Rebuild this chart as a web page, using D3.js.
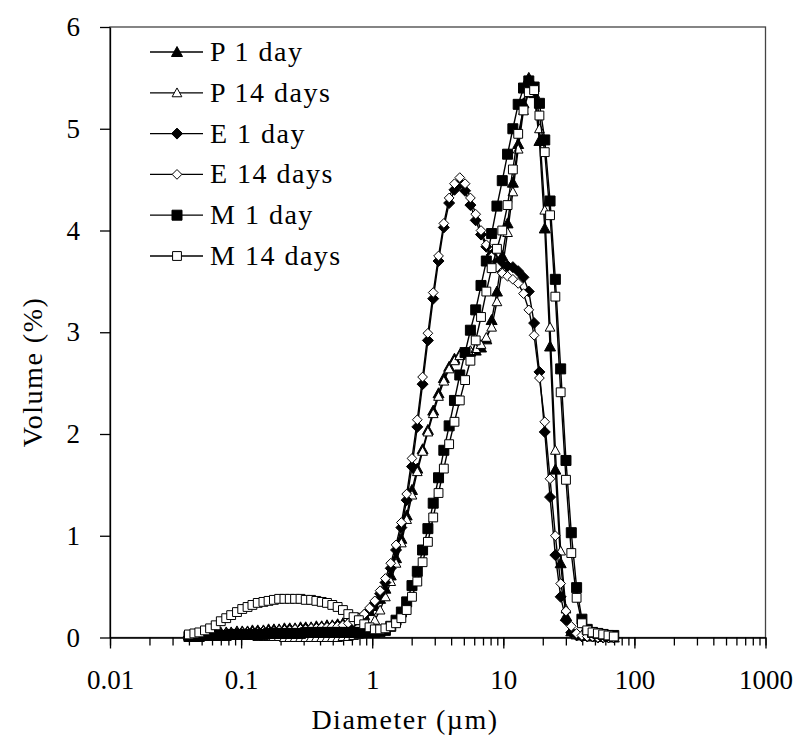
<!DOCTYPE html>
<html>
<head>
<meta charset="utf-8">
<script src="https://cdn.jsdelivr.net/npm/d3@7"></script>
<style>
  body { margin: 0; background: #fff; }
  svg { display: block; }
</style>
</head>
<body>
<div id="container"></div>
<script>
// particle size channels (um)
const diameters = [0.040, 0.044, 0.048, 0.053, 0.058, 0.064, 0.070, 0.077, 0.084, 0.093,
  0.102, 0.112, 0.122, 0.134, 0.148, 0.162, 0.178, 0.195, 0.214, 0.235,
  0.258, 0.284, 0.311, 0.342, 0.375, 0.412, 0.452, 0.496, 0.545, 0.598,
  0.657, 0.721, 0.791, 0.869, 0.954, 1.047, 1.149, 1.261, 1.385, 1.520,
  1.669, 1.832, 2.011, 2.208, 2.423, 2.660, 2.920, 3.206, 3.519, 3.863,
  4.241, 4.656, 5.111, 5.611, 6.159, 6.761, 7.422, 8.148, 8.944, 9.819,
  10.78, 11.83, 12.99, 14.26, 15.65, 17.18, 18.86, 20.71, 22.73, 24.95,
  27.39, 30.07, 33.01, 36.24, 39.78, 43.67, 47.94, 52.62, 57.77, 63.41, 69.61];

// volume % for each series
const p1Day = [0.02, 0.02, 0.03, 0.03, 0.04, 0.04, 0.05, 0.05, 0.05, 0.06,
  0.06, 0.06, 0.07, 0.07, 0.07, 0.08, 0.08, 0.08, 0.09, 0.09,
  0.09, 0.10, 0.10, 0.10, 0.11, 0.11, 0.12, 0.12, 0.13, 0.14,
  0.15, 0.17, 0.19, 0.22, 0.26, 0.31, 0.38, 0.48, 0.61, 0.78,
  0.97, 1.20, 1.45, 1.66, 1.85, 2.04, 2.23, 2.40, 2.55, 2.66,
  2.74, 2.78, 2.80, 2.81, 2.82, 2.85, 2.93, 3.12, 3.40, 3.75,
  4.07, 4.47, 4.85, 5.25, 5.50, 5.35, 4.88, 4.02, 2.86, 1.65,
  0.73, 0.21, 0.06, 0.03, 0.02, 0.02, 0.01, 0.01, 0.01, 0.01, 0.00];

const p14Days = [0.02, 0.02, 0.02, 0.02, 0.02, 0.02, 0.02, 0.02, 0.02, 0.02,
  0.02, 0.02, 0.02, 0.01, 0.01, 0.01, 0.01, 0.01, 0.00, 0.00,
  0.00, 0.00, 0.00, 0.00, 0.00, 0.00, 0.00, 0.00, 0.00, 0.01,
  0.01, 0.02, 0.03, 0.06, 0.10, 0.17, 0.27, 0.40, 0.55, 0.73,
  0.93, 1.16, 1.40, 1.63, 1.83, 2.02, 2.20, 2.37, 2.52, 2.64,
  2.72, 2.77, 2.80, 2.82, 2.84, 2.88, 2.95, 3.05, 3.30, 3.62,
  3.98, 4.38, 4.80, 5.18, 5.42, 5.38, 5.00, 4.20, 3.05, 1.84,
  0.85, 0.28, 0.08, 0.03, 0.02, 0.01, 0.01, 0.01, 0.00, 0.00, 0.00];

const e1Day = [0.01, 0.02, 0.02, 0.02, 0.03, 0.03, 0.03, 0.04, 0.04, 0.04,
  0.05, 0.05, 0.05, 0.06, 0.06, 0.06, 0.07, 0.07, 0.07, 0.08,
  0.08, 0.08, 0.09, 0.09, 0.09, 0.10, 0.10, 0.11, 0.12, 0.12,
  0.13, 0.15, 0.18, 0.22, 0.27, 0.34, 0.43, 0.54, 0.68, 0.86,
  1.08, 1.35, 1.68, 2.07, 2.49, 2.92, 3.33, 3.70, 4.03, 4.27,
  4.40, 4.46, 4.39, 4.25, 4.10, 3.96, 3.84, 3.76, 3.70, 3.67,
  3.65, 3.64, 3.60, 3.54, 3.40, 3.09, 2.61, 2.02, 1.38, 0.81,
  0.40, 0.17, 0.05, 0.02, 0.01, 0.01, 0.01, 0.00, 0.00, 0.00, 0.00];

const e14Days = [0.01, 0.02, 0.02, 0.02, 0.03, 0.03, 0.03, 0.04, 0.04, 0.04,
  0.05, 0.05, 0.05, 0.05, 0.06, 0.06, 0.06, 0.07, 0.07, 0.07,
  0.08, 0.08, 0.08, 0.09, 0.09, 0.10, 0.10, 0.11, 0.11, 0.12,
  0.14, 0.16, 0.19, 0.23, 0.29, 0.36, 0.46, 0.58, 0.73, 0.91,
  1.13, 1.41, 1.76, 2.14, 2.56, 2.99, 3.39, 3.75, 4.07, 4.32,
  4.46, 4.52, 4.46, 4.32, 4.16, 4.00, 3.86, 3.74, 3.64, 3.58,
  3.55, 3.52, 3.48, 3.38, 3.22, 2.97, 2.55, 2.12, 1.56, 1.00,
  0.53, 0.26, 0.11, 0.04, 0.02, 0.01, 0.01, 0.00, 0.00, 0.00, 0.00];

const m1Day = [0.01, 0.01, 0.01, 0.02, 0.02, 0.02, 0.02, 0.02, 0.03, 0.03,
  0.03, 0.03, 0.03, 0.03, 0.03, 0.04, 0.04, 0.04, 0.04, 0.04,
  0.04, 0.04, 0.05, 0.05, 0.05, 0.05, 0.05, 0.05, 0.05, 0.05,
  0.05, 0.05, 0.05, 0.05, 0.05, 0.05, 0.06, 0.07, 0.11, 0.17,
  0.25, 0.35, 0.51, 0.65, 0.86, 1.07, 1.32, 1.57, 1.84, 2.08,
  2.33, 2.58, 2.80, 3.02, 3.22, 3.46, 3.70, 3.97, 4.24, 4.49,
  4.75, 5.00, 5.24, 5.40, 5.47, 5.41, 5.25, 4.89, 4.29, 3.52,
  2.64, 1.74, 1.03, 0.49, 0.18, 0.08, 0.05, 0.04, 0.03, 0.02, 0.02];

const m14Days = [0.03, 0.04, 0.05, 0.07, 0.09, 0.12, 0.16, 0.19, 0.22, 0.25,
  0.28, 0.30, 0.32, 0.34, 0.35, 0.36, 0.37, 0.38, 0.38, 0.38,
  0.38, 0.38, 0.37, 0.37, 0.36, 0.35, 0.34, 0.32, 0.30, 0.27,
  0.23, 0.20, 0.17, 0.13, 0.10, 0.08, 0.08, 0.09, 0.11, 0.14,
  0.19, 0.27, 0.40, 0.55, 0.74, 0.94, 1.18, 1.42, 1.66, 1.90,
  2.12, 2.33, 2.53, 2.72, 2.92, 3.15, 3.40, 3.63, 3.82, 4.00,
  4.25, 4.60, 4.95, 5.18, 5.36, 5.38, 5.13, 4.77, 4.15, 3.35,
  2.41, 1.55, 0.83, 0.39, 0.14, 0.07, 0.05, 0.04, 0.03, 0.02, 0.01];

const seriesNames = ["P 1 day", "P 14 days", "E 1 day", "E 14 days", "M 1 day", "M 14 days"];
const seriesValues = [p1Day, p14Days, e1Day, e14Days, m1Day, m14Days];
const seriesShapes = ["triangle", "triangle", "diamond", "diamond", "square", "square"];
const seriesFilled = [true, false, true, false, true, false];

const xTickLabels = ["0.01", "0.1", "1", "10", "100", "1000"];
const yTickLabels = [0, 1, 2, 3, 4, 5, 6];

const serif = "'Liberation Serif', 'Times New Roman', serif";

// marker shapes (Excel style)
const shapes = {
  triangle: { draw(ctx, size) { const s = Math.sqrt(size); ctx.moveTo(0, -s * 0.55); ctx.lineTo(s * 0.55, s * 0.45); ctx.lineTo(-s * 0.55, s * 0.45); ctx.closePath(); } },
  diamond: { draw(ctx, size) { const s = Math.sqrt(size) * 0.55; ctx.moveTo(0, -s); ctx.lineTo(s, 0); ctx.lineTo(0, s); ctx.lineTo(-s, 0); ctx.closePath(); } },
  square: { draw(ctx, size) { const s = Math.sqrt(size) / 2; ctx.rect(-s, -s, s * 2, s * 2); } }
};

const width = 800, height = 740;
const plotLeft = 110, plotRight = 765.5, plotTop = 27, plotBottom = 637.5;

const svg = d3.select("#container").append("svg")
  .attr("width", width)
  .attr("height", height)
  .attr("viewBox", [0, 0, width, height]);

const x = d3.scaleLog().domain([0.01, 1000]).range([plotLeft, plotRight]);
const y = d3.scaleLinear().domain([0, 6]).range([plotBottom, plotTop]);

// frame (top + right)
svg.append("rect")
  .attr("x", plotLeft).attr("y", plotTop)
  .attr("width", plotRight - plotLeft).attr("height", plotBottom - plotTop)
  .attr("fill", "none").attr("stroke", "#444").attr("stroke-width", 1.3);

// minor x ticks
const minorAxis = svg.append("g")
  .attr("transform", `translate(0,${plotBottom})`)
  .call(d3.axisBottom(x).tickValues(x.ticks()).tickSize(8).tickFormat(""));
minorAxis.select(".domain").remove();

// major x ticks
const xAxis = svg.append("g")
  .attr("transform", `translate(0,${plotBottom})`)
  .call(d3.axisBottom(x)
    .tickValues(xTickLabels.map(Number))
    .tickSize(11).tickSizeOuter(0).tickPadding(21)
    .tickFormat((d, i) => xTickLabels[i]));

const yAxis = svg.append("g")
  .attr("transform", `translate(${plotLeft},0)`)
  .call(d3.axisLeft(y)
    .tickValues(yTickLabels)
    .tickSize(10).tickSizeOuter(0).tickPadding(20)
    .tickFormat(d3.format("d")));

svg.selectAll(".tick line, .domain").attr("stroke", "#000").attr("stroke-width", 1.3);
svg.selectAll(".tick text")
  .attr("font-family", serif)
  .attr("font-size", 27)
  .attr("fill", "#000");

// axis titles
svg.append("text")
  .attr("x", 405).attr("y", 729)
  .attr("text-anchor", "middle")
  .attr("font-family", serif).attr("font-size", 28)
  .attr("letter-spacing", 1.5)
  .text("Diameter (µm)");

svg.append("text")
  .attr("transform", "translate(42,372) rotate(-90)")
  .attr("text-anchor", "middle")
  .attr("font-family", serif).attr("font-size", 28)
  .attr("letter-spacing", 1.5)
  .text("Volume (%)");

// series
const line = d3.line()
  .x(d => x(d[0]))
  .y(d => y(d[1]));

function markerSize(i) {
  return seriesFilled[i] ? 100 : 78;
}

seriesValues.forEach((values, i) => {
  const pts = diameters.map((d, j) => [d, values[j]]);
  const g = svg.append("g");

  g.append("path")
    .datum(pts)
    .attr("fill", "none")
    .attr("stroke", "#000")
    .attr("stroke-width", 1.4)
    .attr("d", line);

  g.selectAll("path.mark")
    .data(pts)
    .join("path")
    .attr("class", "mark")
    .attr("transform", d => `translate(${x(d[0])},${y(d[1])})`)
    .attr("d", d3.symbol(shapes[seriesShapes[i]], markerSize(i)))
    .attr("fill", seriesFilled[i] ? "#000" : "#fff")
    .attr("stroke", "#000")
    .attr("stroke-width", 1);
});

// legend
const legend = svg.append("g");
seriesNames.forEach((name, i) => {
  const cy = 52 + i * 40.8;
  legend.append("line")
    .attr("x1", 150).attr("x2", 203)
    .attr("y1", cy).attr("y2", cy)
    .attr("stroke", "#000").attr("stroke-width", 1.3);
  legend.append("path")
    .attr("transform", `translate(177,${cy})`)
    .attr("d", d3.symbol(shapes[seriesShapes[i]], markerSize(i)))
    .attr("fill", seriesFilled[i] ? "#000" : "#fff")
    .attr("stroke", "#000").attr("stroke-width", 1);
  legend.append("text")
    .attr("x", 210).attr("y", cy + 9)
    .attr("font-family", serif).attr("font-size", 28)
    .attr("letter-spacing", 1.5)
    .text(name);
});
</script>
</body>
</html>
